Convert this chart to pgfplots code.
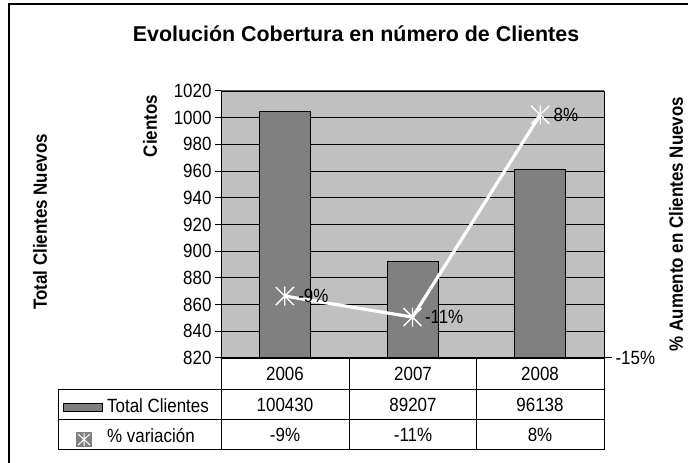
\documentclass[border=0pt]{standalone}
\usepackage{pgfplots}
\pgfplotsset{compat=1.18}
\usepackage{graphicx}
\usepackage{fontspec}
\setmainfont{Liberation Sans}
\definecolor{plotgray}{HTML}{C0C0C0}
\definecolor{bargray}{HTML}{808080}
\pgfdeclareplotmark{xstar}{%
 \pgfpathmoveto{\pgfqpoint{0pt}{-\pgfplotmarksize}}%
 \pgfpathlineto{\pgfqpoint{0pt}{\pgfplotmarksize}}%
 \pgfpathmoveto{\pgfqpoint{-0.95\pgfplotmarksize}{-0.95\pgfplotmarksize}}%
 \pgfpathlineto{\pgfqpoint{0.95\pgfplotmarksize}{0.95\pgfplotmarksize}}%
 \pgfpathmoveto{\pgfqpoint{-0.95\pgfplotmarksize}{0.95\pgfplotmarksize}}%
 \pgfpathlineto{\pgfqpoint{0.95\pgfplotmarksize}{-0.95\pgfplotmarksize}}%
 \pgfusepathqstroke}
\newcommand{\fs}{\fontsize{17}{20}\selectfont}
\newcommand{\T}[1]{\scalebox{1}[1.13]{#1}}
\begin{document}
\begin{tikzpicture}
\useasboundingbox (0,0) rectangle (688bp,463bp);
\fill[white] (0,0) rectangle (688bp,463bp);
% outer frame
\draw[line width=1.5bp] (9bp,0) -- (9bp,459bp) -- (688bp,459bp);
% title and outer labels
\node[anchor=base, font=\fontsize{21.5}{24}\selectfont\bfseries, inner sep=0] at (356bp,421bp) {Evolución Cobertura en número de Clientes};
\node[rotate=90, font=\fs\bfseries, inner sep=0] at (150bp,337bp) {\T{Cientos}};
\node[rotate=90, font=\fs\bfseries, inner sep=0] at (40bp,241bp) {\T{Total Clientes Nuevos}};
\node[rotate=90, font=\fs\bfseries, inner sep=0] at (676bp,239bp) {\T{\% Aumento en Clientes Nuevos}};

\begin{axis}[
  at={(221bp,105bp)}, anchor=south west, scale only axis,
  width=383bp, height=267bp,
  xmin=-0.5, xmax=2.5, ymin=820, ymax=1020,
  xtick=\empty,
  ytick={820,840,860,880,900,920,940,960,980,1000,1020},
  yticklabels={\T{820},\T{840},\T{860},\T{880},\T{900},\T{920},\T{940},\T{960},\T{980},\T{1000},\T{1020}},
  yticklabel style={font=\fs},
  axis y line*=left, axis x line*=bottom,
  axis line style={black, line width=1bp},
  tick style={black, line width=1bp},
  tick align=outside, major tick length=6bp,
  axis background/.style={fill=plotgray},
  ymajorgrids, major grid style={black, line width=0.8bp},
]
\addplot[ybar, bar width=51bp, fill=bargray, draw=black, line width=1bp]
  coordinates {(0,1004.30) (1,892.07) (2,961.38)};
\end{axis}

\draw[bargray!70!black, line width=1bp] (221bp,372bp) -- (604bp,372bp);

\begin{axis}[
  at={(221bp,105bp)}, anchor=south west, scale only axis,
  width=383bp, height=267bp,
  xmin=-0.5, xmax=2.5, ymin=-15, ymax=10,
  axis x line=none, axis y line*=right,
  ytick={-15}, yticklabels={\T{-15\%}},
  yticklabel style={font=\fs},
  axis line style={black, line width=1bp},
  tick style={black, line width=1bp},
  tick align=outside, major tick length=8bp,
]
\addplot[white, line width=3.2bp, mark=xstar, mark size=9.5bp,
  mark options={white, line width=1.3bp, solid}]
  coordinates {(0,-9.2) (1,-11.17) (2,7.77)};
\node[anchor=west, font=\fs, xshift=10bp] at (axis cs:0,-9.2) {\T{-9\%}};
\node[anchor=west, font=\fs, xshift=9bp] at (axis cs:1,-11.17) {\T{-11\%}};
\node[anchor=west, font=\fs, xshift=10bp] at (axis cs:2,7.77) {\T{8\%}};
\end{axis}

% data table
\begin{scope}[line width=1bp, black]
\draw (221bp,105bp) -- (221bp,13bp);
\draw (349bp,105bp) -- (349bp,13bp);
\draw (476bp,105bp) -- (476bp,13bp);
\draw (604bp,105bp) -- (604bp,13bp);
\draw (58bp,73bp) -- (58bp,13bp);
\draw (58bp,73bp) -- (604bp,73bp);
\draw (58bp,43bp) -- (604bp,43bp);
\draw (58bp,13bp) -- (604bp,13bp);
\end{scope}
\node[font=\fs] at (285bp,89bp) {\T{2006}};
\node[font=\fs] at (413bp,89bp) {\T{2007}};
\node[font=\fs] at (540bp,89bp) {\T{2008}};
\node[font=\fs] at (285bp,58bp) {\T{100430}};
\node[font=\fs] at (413bp,58bp) {\T{89207}};
\node[font=\fs] at (540bp,58bp) {\T{96138}};
\node[font=\fs] at (285bp,28bp) {\T{-9\%}};
\node[font=\fs] at (413bp,28bp) {\T{-11\%}};
\node[font=\fs] at (540bp,28bp) {\T{8\%}};
% legend cells
\draw[fill=bargray, draw=black, line width=1bp] (63bp,51bp) rectangle (102bp,59bp);
\node[font=\fs, anchor=west, inner sep=0] at (107bp,57bp) {\T{Total Clientes}};
\fill[bargray] (76bp,16bp) rectangle (92bp,31bp);
\draw[white, line width=1bp] (84bp,17bp) -- (84bp,30bp) (78bp,18bp) -- (90bp,29bp) (78bp,29bp) -- (90bp,18bp);
\node[font=\fs, anchor=west, inner sep=0] at (107bp,27bp) {\T{\% variación}};
\end{tikzpicture}
\end{document}
